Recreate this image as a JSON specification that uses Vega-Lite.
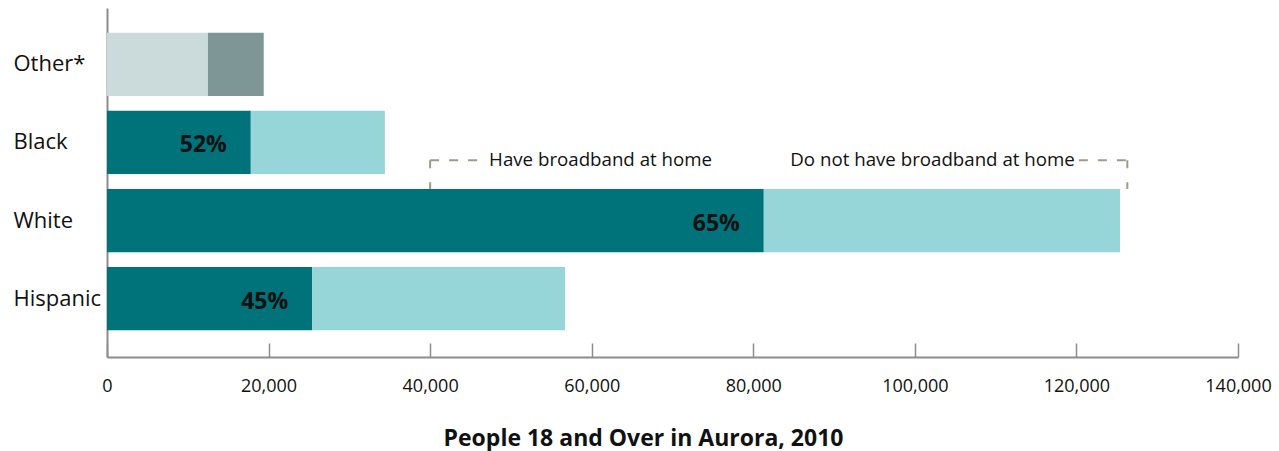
{
  "$schema": "https://vega.github.io/schema/vega-lite/v6.json",
  "width": 1131,
  "height": 349,
  "autosize": "none",
  "padding": {"left": 107, "top": 8, "right": 41, "bottom": 94},
  "background": "white",
  "config": {"view": {"stroke": null}, "font": "Open Sans"},
  "datasets": {
    "people": [
      {"race": "Other*", "status": "Have broadband", "people": 12500},
      {"race": "Other*", "status": "No broadband", "people": 6900},
      {"race": "Black", "status": "Have broadband", "people": 17800, "share": 0.52},
      {"race": "Black", "status": "No broadband", "people": 16600},
      {"race": "White", "status": "Have broadband", "people": 81300, "share": 0.65},
      {"race": "White", "status": "No broadband", "people": 44100},
      {"race": "Hispanic", "status": "Have broadband", "people": 25400, "share": 0.45},
      {"race": "Hispanic", "status": "No broadband", "people": 31300}
    ],
    "bracket": [
      {"side": "left", "tick": 40000, "from": 40000, "to": 46000, "label": "Have broadband at home", "labelAt": 47300},
      {"side": "right", "tick": 126300, "from": 120300, "to": 126300, "label": "Do not have broadband at home", "labelAt": 119800}
    ]
  },
  "layer": [
    {
      "data": {"name": "people"},
      "mark": {"type": "bar"},
      "encoding": {
        "y": {
          "field": "race",
          "type": "nominal",
          "sort": ["Other*", "Black", "White", "Hispanic"],
          "scale": {"paddingInner": 0.19, "paddingOuter": 0.33, "align": 0.48},
          "axis": {
            "title": null,
            "ticks": false,
            "labelAlign": "left",
            "labelPadding": 94,
            "labelFontSize": 22,
            "labelColor": "#111111",
            "domainColor": "#8c8c8c",
            "domainWidth": 2
          }
        },
        "x": {
          "field": "people",
          "type": "quantitative",
          "scale": {"domain": [0, 140000]},
          "axis": {
            "title": "People 18 and Over in Aurora, 2010",
            "values": [0, 20000, 40000, 60000, 80000, 100000, 120000, 140000],
            "format": ",d",
            "grid": false,
            "tickSize": -14,
            "tickColor": "#8c8c8c",
            "tickWidth": 1.5,
            "domainColor": "#8c8c8c",
            "domainWidth": 2,
            "labelPadding": 34,
            "labelFontSize": 18,
            "labelColor": "#111111",
            "labelFlush": false,
            "titleFontSize": 23,
            "titleFontWeight": "bold",
            "titleColor": "#111111",
            "titlePadding": 32,
            "titleX": 536
          }
        },
        "color": {
          "condition": [
            {"test": "datum.race === 'Other*' && datum.status === 'Have broadband'", "value": "#cbdada"},
            {"test": "datum.race === 'Other*'", "value": "#7e9696"}
          ],
          "field": "status",
          "type": "nominal",
          "scale": {"domain": ["Have broadband", "No broadband"], "range": ["#00727a", "#96d5d8"]},
          "legend": null
        },
        "order": {"field": "status", "sort": "ascending"}
      }
    },
    {
      "data": {"name": "people"},
      "transform": [{"filter": "isValid(datum.share)"}],
      "mark": {"type": "text", "align": "right", "baseline": "middle", "dx": -24, "dy": 3, "fontSize": 23, "fontWeight": "bold", "color": "#111111"},
      "encoding": {
        "y": {"field": "race", "type": "nominal", "sort": ["Other*", "Black", "White", "Hispanic"]},
        "x": {"field": "people", "type": "quantitative"},
        "text": {"field": "share", "type": "quantitative", "format": ".0%"}
      }
    },
    {
      "data": {"name": "bracket"},
      "mark": {"type": "rule", "color": "#9e9a8a", "strokeWidth": 2, "strokeDash": [9, 10]},
      "encoding": {
        "x": {"field": "from", "type": "quantitative"},
        "x2": {"field": "to"},
        "y": {"datum": "Black", "type": "nominal", "bandPosition": 0.78}
      }
    },
    {
      "data": {"name": "bracket"},
      "mark": {"type": "rule", "color": "#9e9a8a", "strokeWidth": 2, "strokeDash": [8, 14]},
      "encoding": {
        "x": {"field": "tick", "type": "quantitative"},
        "y": {"datum": "Black", "type": "nominal", "bandPosition": 0.78},
        "y2": {"datum": "White", "bandPosition": 0}
      }
    },
    {
      "data": {"name": "bracket"},
      "transform": [{"filter": "datum.side === 'left'"}],
      "mark": {"type": "text", "align": "left", "baseline": "middle", "fontSize": 18.7, "color": "#111111"},
      "encoding": {
        "x": {"field": "labelAt", "type": "quantitative"},
        "y": {"datum": "Black", "type": "nominal", "bandPosition": 0.78},
        "text": {"field": "label"}
      }
    },
    {
      "data": {"name": "bracket"},
      "transform": [{"filter": "datum.side === 'right'"}],
      "mark": {"type": "text", "align": "right", "baseline": "middle", "fontSize": 18.7, "color": "#111111"},
      "encoding": {
        "x": {"field": "labelAt", "type": "quantitative"},
        "y": {"datum": "Black", "type": "nominal", "bandPosition": 0.78},
        "text": {"field": "label"}
      }
    }
  ]
}
